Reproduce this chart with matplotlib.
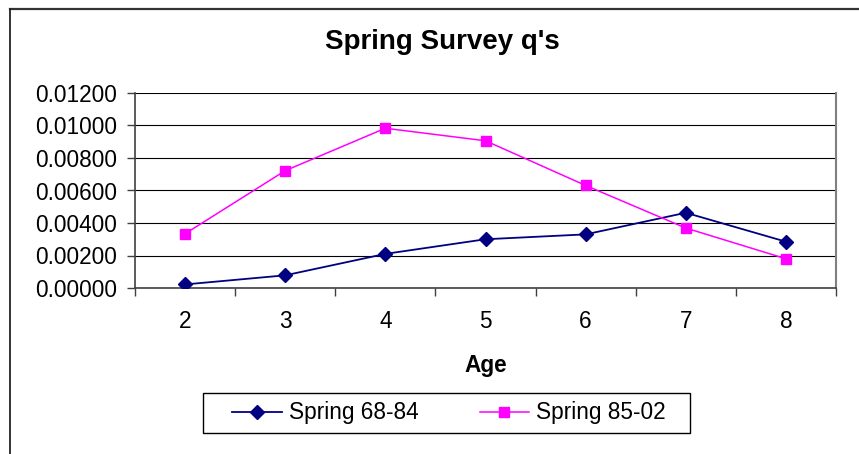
import matplotlib.pyplot as plt
import numpy as np
from matplotlib.lines import Line2D
from matplotlib.patches import Rectangle
from matplotlib.ticker import FixedLocator, NullFormatter

plt.rcParams['font.family'] = ['Liberation Sans', 'DejaVu Sans']

# datos
edades = ['2', '3', '4', '5', '6', '7', '8']
spring_68_84 = [0.00022, 0.00078, 0.00210, 0.00300, 0.00330, 0.00463, 0.00285]
spring_85_02 = [0.00334, 0.00722, 0.00983, 0.00906, 0.00631, 0.00369, 0.00180]

fig = plt.figure(figsize=(8.59, 4.54), dpi=100)
ax = fig.add_axes([135 / 859, 166 / 454, 701 / 859, 195 / 454])

x = np.arange(len(edades))
ax.plot(x, spring_68_84, color='#000080', marker='D', markersize=7.5, lw=1.3,
        label='Spring 68-84', zorder=3)
ax.plot(x, spring_85_02, color='#FF00FF', marker='s', markersize=7.5, lw=1.1,
        label='Spring 85-02', zorder=3)

ax.set_ylim(0, 0.012)
ax.set_yticks(np.arange(0, 0.0121, 0.002))
ax.set_yticklabels([f'{v:.5f}' for v in np.arange(0, 0.0121, 0.002)])
ax.yaxis.grid(True, color='black', lw=0.8)
ax.set_axisbelow(True)

ax.set_xlim(-0.5, len(edades) - 0.5)
ax.xaxis.set_major_locator(FixedLocator(np.arange(-0.5, len(edades), 1.0)))
ax.xaxis.set_major_formatter(NullFormatter())
ax.xaxis.set_minor_locator(FixedLocator(x))
ax.set_xticklabels(edades, minor=True)

ax.tick_params(axis='both', which='major', direction='out', length=6, width=1,
               color='#404040', labelsize=16.3)
ax.tick_params(axis='y', pad=7)
ax.tick_params(axis='x', which='minor', length=0, pad=16, labelsize=16.3)

for lado in ['left', 'bottom']:
    ax.spines[lado].set_color('#404040')
    ax.spines[lado].set_linewidth(1.2)
ax.spines['right'].set_color('#808080')
ax.spines['right'].set_linewidth(1.5)
ax.spines['top'].set_visible(False)

ax.set_xlabel('Age', fontsize=16.3, fontweight='bold', labelpad=15)

fig.text(442 / 859, 1 - 42 / 454, "Spring Survey q's", fontsize=20,
         fontweight='bold', ha='center', va='center')

# leyenda con marco dibujado aparte
fig.add_artist(Rectangle((203 / 859, 1 - 433 / 454), 487 / 859, 40 / 454,
                         transform=fig.transFigure, fill=False,
                         edgecolor='black', lw=1))
fig.legend(loc='center', bbox_to_anchor=(449 / 859, 1 - 413 / 454), ncol=2,
           frameon=False, fontsize=16.3, handlelength=2.2, handletextpad=0.3,
           columnspacing=2.7)

# borde exterior del area del grafico
fig.add_artist(Line2D([9.5 / 859, 1], [1 - 8.5 / 454, 1 - 8.5 / 454],
                      transform=fig.transFigure, color='#333333', lw=1.6))
fig.add_artist(Line2D([9.5 / 859, 9.5 / 859], [0, 1 - 8.5 / 454],
                      transform=fig.transFigure, color='#222222', lw=1.3))

fig.savefig('out.png', dpi=100)
